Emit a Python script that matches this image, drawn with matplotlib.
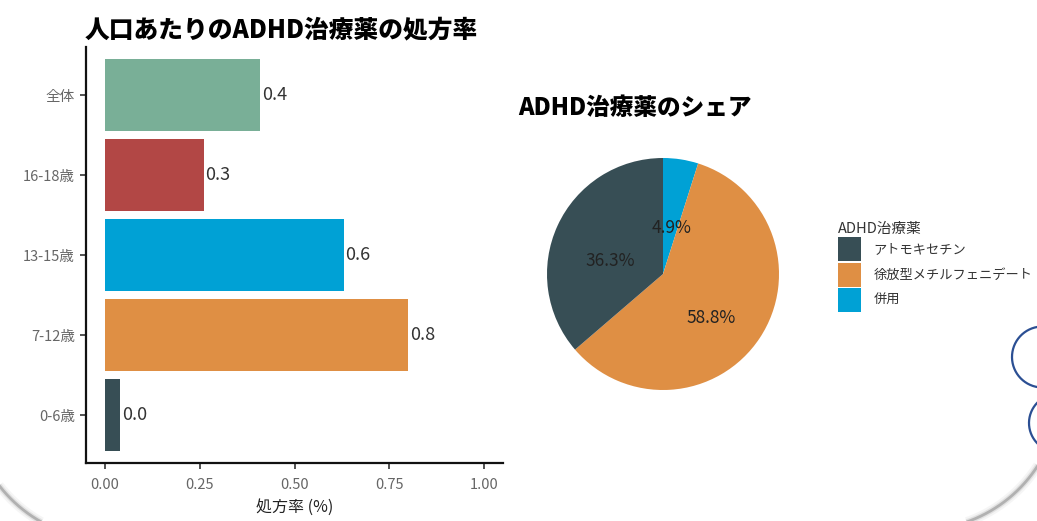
import matplotlib
matplotlib.use("Agg")
import matplotlib.pyplot as plt
import numpy as np
from matplotlib.patches import Patch

plt.rcParams["font.family"] = ["Noto Sans CJK JP", "DejaVu Sans"]

# Prescription rate per population, by age group (%)
age_groups = ["0-6歳", "7-12歳", "13-15歳", "16-18歳", "全体"]
rates = [0.04, 0.80, 0.63, 0.26, 0.41]
bar_colors = ["#374E55", "#DF8F44", "#00A1D5", "#B24745", "#79AF97"]
x_ticks = [0.0, 0.25, 0.50, 0.75, 1.00]

# Share of ADHD medications (%)
drugs = ["アトモキセチン", "徐放型メチルフェニデート", "併用"]
shares = [36.3, 58.8, 4.9]
drug_colors = ["#374E55", "#DF8F44", "#00A1D5"]

W, H = 1037, 521
fig = plt.figure(figsize=(W / 100, H / 100), dpi=100)


def box(x0, y0, x1, y1):
    """Axes rectangle from pixel edges (origin top-left)."""
    return [x0 / W, 1 - y1 / H, (x1 - x0) / W, (y1 - y0) / H]


# ---- bar chart -------------------------------------------------------------
ax = fig.add_axes(box(86, 47, 503, 463))
ypos = np.arange(len(age_groups))
ax.barh(ypos, rates, height=0.9, color=bar_colors)
for y, v in zip(ypos, rates):
    ax.text(v + 0.004, y, f"{v:.1f}", va="center", ha="left",
            fontsize=13, color="#333333")
ax.set_xlim(-0.05, 1.05)
ax.set_ylim(-0.6, len(age_groups) - 0.4)
ax.set_yticks(ypos, age_groups)
ax.set_xticks(x_ticks, [f"{t:.2f}" for t in x_ticks])
for side in ("top", "right"):
    ax.spines[side].set_visible(False)
for side in ("left", "bottom"):
    ax.spines[side].set_linewidth(1.6)
    ax.spines[side].set_color("#111111")
ax.tick_params(length=4, width=1.2, color="#333333", labelcolor="#666666",
               labelsize=10.5, pad=4)
ax.tick_params(axis="x", pad=7)
ax.set_xlabel("処方率 (%)", fontsize=11.5, color="#222222", labelpad=5)

fig.text(85 / W, 1 - 29 / H, "人口あたりのADHD治療薬の処方率",
         fontsize=17.8, fontweight="heavy", color="black", ha="left", va="center")

# ---- pie chart -------------------------------------------------------------
cx, cy, r = 663, 274, 116
ax2 = fig.add_axes(box(cx - r, cy - r, cx + r, cy + r))
order = [2, 1, 0]  # drawn clockwise from 12 o'clock
wedges, _, autotexts = ax2.pie([shares[i] for i in order],
                               colors=[drug_colors[i] for i in order],
                               startangle=90, counterclock=False, radius=1.0,
                               autopct=lambda p: f"{p:.1f}%", pctdistance=0.5,
                               textprops=dict(fontsize=12.5, color="#222222"))
for t in autotexts:
    x, y = t.get_position()
    t.set_position((x, y - 0.1))
ax2.set_xlim(-1, 1)
ax2.set_ylim(-1, 1)
ax2.set_aspect("equal")
ax2.axis("off")

fig.text(518 / W, 1 - 108 / H, "ADHD治療薬のシェア",
         fontsize=17, fontweight="heavy", color="black", ha="left", va="center")

handles = [Patch(facecolor=c, edgecolor="none") for c in drug_colors]
leg = fig.legend(handles, drugs, title="ADHD治療薬", loc="upper left",
                 bbox_to_anchor=(835 / W, 1 - 219 / H), frameon=False,
                 fontsize=9.5, title_fontsize=10.5, handlelength=1.8,
                 handleheight=2.45, labelspacing=0.1, handletextpad=0.9,
                 borderaxespad=0, borderpad=0.2, alignment="left")
for t in leg.get_texts():
    t.set_color("#333333")
leg.get_title().set_color("#333333")

# ---- slide frame decorations ----------------------------------------------
deco = fig.add_axes([0, 0, 1, 1], zorder=-1)
deco.set_xlim(0, W)
deco.set_ylim(H, 0)
deco.axis("off")


def arc(cx_, cy_, rad, a0, a1, **kw):
    t = np.radians(np.linspace(a0, a1, 200))
    deco.plot(cx_ + rad * np.cos(t), cy_ + rad * np.sin(t), **kw)


for lw, a in [(7, 0.08), (4, 0.18), (2, 0.55)]:
    arc(110, 400, 140, 95, 160, color="#8a8a8a", lw=lw, alpha=a,
        solid_capstyle="butt")
    arc(920, 390, 140, 20, 85, color="#8a8a8a", lw=lw, alpha=a,
        solid_capstyle="butt")

arc(1042.5, 357, 30.5, 0, 360, color="#2b4f93", lw=1.6)
arc(1058, 423, 29, 0, 360, color="#2b4f93", lw=1.6)

fig.savefig("out.png", dpi=100, facecolor="white")
